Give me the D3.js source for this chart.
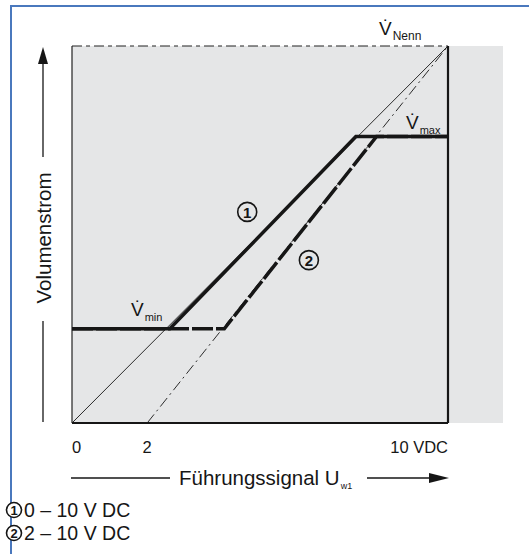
<!DOCTYPE html>
<html>
<head>
<meta charset="utf-8">
<script src="https://cdn.jsdelivr.net/npm/d3@7"></script>
<style>
  html, body { margin: 0; padding: 0; background: #ffffff; }
  svg { display: block; font-family: "Liberation Sans", Arial, Helvetica, sans-serif; }
</style>
</head>
<body>
<svg id="chart" width="529" height="554"></svg>
<script>
// ---------- data ----------
const xDomain = [0, 10];          // Führungssignal (V)
const yDomain = [0, 100];         // Volumenstrom (% of V̇Nenn)
const vMin = 25;                  // V̇min level (%)
const vMax = 76;                  // V̇max level (%)
const line1X = [0, 2.6, 7.55, 10];
const line1Y = [vMin, vMin, vMax, vMax];
const line2X = [0, 4.05, 8.1, 10];
const line2Y = [vMin, vMin, vMax, vMax];
const diag1X = [0, 10];
const diag1Y = [0, 100];
const diag2X = [2, 10];
const diag2Y = [0, 100];
const nennX = [0, 10];
const nennY = [100, 100];
const tickValues = [0, 2, 10];
const tickLabels = ["0", "2", "10 VDC"];
const legendMarks = ["1", "2"];
const legendLabels = ["0 – 10 V DC", "2 – 10 V DC"];

// ---------- layout ----------
const svg = d3.select("#chart");
const x = d3.scaleLinear().domain(xDomain).range([72, 448]);
const y = d3.scaleLinear().domain(yDomain).range([423, 46]);
const pts = (xs, ys) => xs.map((v, i) => [v, ys[i]]);
const line = d3.line().x(d => x(d[0])).y(d => y(d[1]));
const ink = "#161616";

// blue frame (left + top)
svg.append("path").attr("d", "M11,554 L11,6 L529,6")
  .attr("fill", "none").attr("stroke", "#4a78bd").attr("stroke-width", 2);

// gray background
svg.append("rect").attr("x", x(0)).attr("y", y(100))
  .attr("width", 503 - x(0)).attr("height", y(0) - y(100))
  .attr("fill", "#e5e6e7");

// thin diagonals
svg.append("path").attr("d", line(pts(diag1X, diag1Y)))
  .attr("fill", "none").attr("stroke", ink).attr("stroke-width", 0.9);
svg.append("path").attr("d", line(pts(diag2X, diag2Y)))
  .attr("fill", "none").attr("stroke", ink).attr("stroke-width", 0.9)
  .attr("stroke-dasharray", "11,4,2,4");

// top dashed line (V̇Nenn)
svg.append("path").attr("d", line(pts(nennX, nennY)))
  .attr("fill", "none").attr("stroke", "#222").attr("stroke-width", 1.2)
  .attr("stroke-dasharray", "10,4,4,4");

// frame: left thin, bottom and right thick
svg.append("line").attr("x1", x(0)).attr("x2", x(0)).attr("y1", y(100)).attr("y2", y(0))
  .attr("stroke", "#222").attr("stroke-width", 1.2);
svg.append("line").attr("x1", x(0)).attr("x2", x(10)).attr("y1", y(0)).attr("y2", y(0))
  .attr("stroke", ink).attr("stroke-width", 2.2);
svg.append("line").attr("x1", x(10)).attr("x2", x(10)).attr("y1", y(100)).attr("y2", y(0))
  .attr("stroke", ink).attr("stroke-width", 2.2);

// curve 2 (dashed thick) then curve 1 (solid thick)
svg.append("path").attr("d", line(pts(line2X, line2Y)))
  .attr("fill", "none").attr("stroke", ink).attr("stroke-width", 3.5)
  .attr("stroke-dasharray", "21,3");
svg.append("path").attr("d", line(pts(line1X, line1Y)))
  .attr("fill", "none").attr("stroke", ink).attr("stroke-width", 3.5)
  .attr("stroke-linejoin", "miter");

// circled number helper
function circled(g, cx, cy, r, label, fs, fill) {
  g.append("circle").attr("cx", cx).attr("cy", cy).attr("r", r)
    .attr("fill", fill).attr("stroke", ink).attr("stroke-width", 1.6);
  g.append("text").attr("x", cx).attr("y", cy + 0.5).attr("text-anchor", "middle")
    .attr("dominant-baseline", "central").attr("font-size", fs).attr("font-weight", "bold")
    .attr("fill", ink).text(label);
}
circled(svg, x(4.66), y(56), 9.5, legendMarks[0], 15, "none");
circled(svg, x(6.3), y(43.2), 9.5, legendMarks[1], 15, "none");

// V-dot labels
function vlabel(xp, yp, sub, fs, sfs) {
  const t = svg.append("text").attr("x", xp).attr("y", yp).attr("font-size", fs).attr("fill", ink);
  t.append("tspan").text("V\u0307");
  t.append("tspan").attr("font-size", sfs).attr("dy", 5).attr("dx", 1).text(sub);
}
vlabel(131, 316, "min", 19, 11);
vlabel(406, 129, "max", 19, 11);
vlabel(379, 35, "Nenn", 19, 12);

// x tick labels
svg.selectAll("text.tick").data(tickValues).enter().append("text")
  .attr("class", "tick")
  .attr("x", d => x(d))
  .attr("y", 453)
  .attr("font-size", 16.5).attr("fill", ink)
  .attr("text-anchor", (d, i) => i === 0 ? "start" : (i === tickValues.length - 1 ? "end" : "middle"))
  .text((d, i) => tickLabels[i]);

// x axis title with arrow
const ax = 478;
svg.append("line").attr("x1", 71).attr("x2", 170).attr("y1", ax).attr("y2", ax)
  .attr("stroke", ink).attr("stroke-width", 1.3);
const xt = svg.append("text").attr("x", 179).attr("y", 485).attr("font-size", 20.5).attr("fill", ink);
xt.append("tspan").text("Führungssignal U");
xt.append("tspan").attr("font-size", 9).attr("dy", 4).attr("dx", 1).text("w1");
svg.append("line").attr("x1", 367).attr("x2", 435).attr("y1", ax).attr("y2", ax)
  .attr("stroke", ink).attr("stroke-width", 1.3);
svg.append("path").attr("d", `M449,${ax} L429,${ax - 5} L429,${ax + 5} Z`).attr("fill", ink);

// y axis title with arrow
const ay = 43;
svg.append("line").attr("x1", ay).attr("x2", ay).attr("y1", 60).attr("y2", 157)
  .attr("stroke", ink).attr("stroke-width", 1.3);
svg.append("path").attr("d", `M${ay},47 L${ay - 5},64 L${ay + 5},64 Z`).attr("fill", ink);
svg.append("line").attr("x1", ay).attr("x2", ay).attr("y1", 321).attr("y2", 422)
  .attr("stroke", ink).attr("stroke-width", 1.3);
svg.append("text").attr("transform", `translate(${ay},238) rotate(-90)`)
  .attr("text-anchor", "middle").attr("dominant-baseline", "central")
  .attr("font-size", 20.5).attr("fill", ink).text("Volumenstrom");

// legend
legendLabels.forEach((lab, i) => {
  const cy = 510 + i * 23;
  circled(svg, 14, cy, 7.5, legendMarks[i], 13, "#ffffff");
  svg.append("text").attr("x", 24).attr("y", cy + 7).attr("font-size", 19.5).attr("fill", ink).text(lab);
});
</script>
</body>
</html>
